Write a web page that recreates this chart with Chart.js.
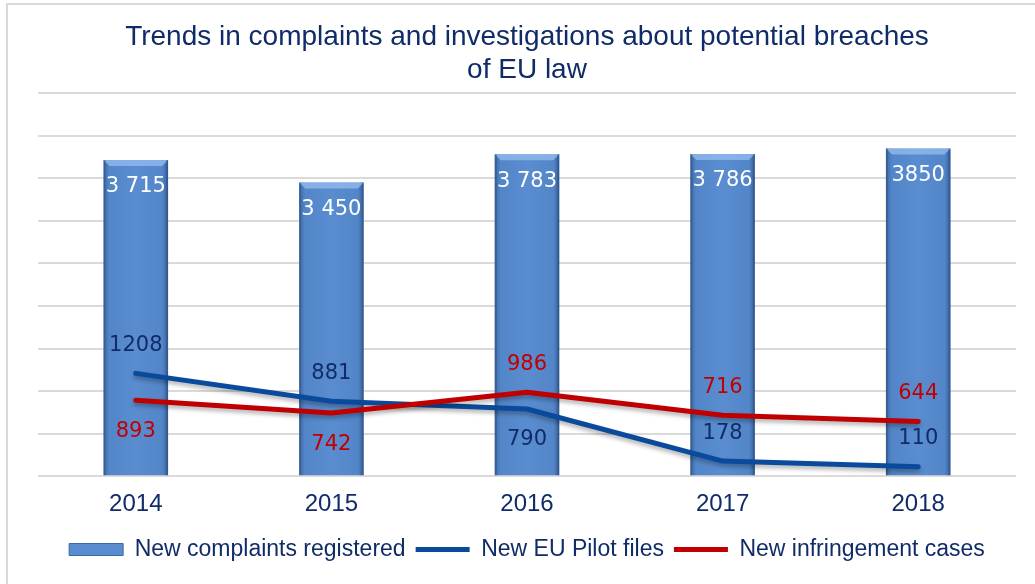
<!DOCTYPE html>
<html>
<head>
<meta charset="utf-8">
<script src="https://cdn.jsdelivr.net/npm/chart.js@4.4.0/dist/chart.umd.min.js"></script>
<style>
  html, body { margin:0; padding:0; background:#fff; }
  #wrap { position:relative; width:1035px; height:584px; overflow:hidden; }
  #frame { position:absolute; left:6px; top:3px; width:1100px; height:700px; border:2px solid #d9d9d9; pointer-events:none; }
  canvas { position:absolute; left:0; top:0; }
</style>
</head>
<body>
<div id="wrap">
  <canvas id="chart" width="1035" height="584"></canvas>
  <div id="frame"></div>
</div>
<script>
// data
const years = ['2014', '2015', '2016', '2017', '2018'];
const complaints = [3715, 3450, 3783, 3786, 3850];
const complaintText = ['3 715', '3 450', '3 783', '3 786', '3850'];
const pilotFiles = [1208, 881, 790, 178, 110];
const infringements = [893, 742, 986, 716, 644];

// where each line label sits relative to its point
const pilotPos = ['above', 'above', 'below', 'above', 'above'];
const infrPos = ['below', 'below', 'above', 'above', 'above'];

const navy = '#102c68';
const blueLine = '#0a4a9c';
const redLine = '#c00000';
const barPct = 0.33;

function barFill(c) {
  const chart = c.chart;
  const x = chart.scales.x;
  if (!chart.chartArea || !x || c.dataIndex === undefined) return '#5588c8';
  const cx = x.getPixelForValue(c.dataIndex);
  const w = chart.chartArea.width / years.length * barPct;
  const g = chart.ctx.createLinearGradient(cx - w/2, 0, cx + w/2, 0);
  g.addColorStop(0, '#3c68a4');
  g.addColorStop(0.09, '#5386c8');
  g.addColorStop(0.5, '#5a8dcf');
  g.addColorStop(0.91, '#5386c8');
  g.addColorStop(1, '#36609a');
  return g;
}

const bevel = {
  id: 'bevel',
  afterDatasetDraw(chart, args) {
    if (args.index !== 0) return;
    const ctx = chart.ctx;
    ctx.save();
    args.meta.data.forEach(el => {
      const l = el.x - el.width/2, r = el.x + el.width/2, t = el.y;
      ctx.fillStyle = 'rgba(150,190,240,0.75)';
      ctx.beginPath();
      ctx.moveTo(l, t); ctx.lineTo(r, t); ctx.lineTo(r - 6, t + 6); ctx.lineTo(l + 6, t + 6);
      ctx.closePath(); ctx.fill();
      ctx.fillStyle = 'rgba(40,70,120,0.35)';
      ctx.fillRect(l, t, 2, el.base - t);
      ctx.fillRect(r - 2, t, 2, el.base - t);
    });
    ctx.restore();
  }
};

const lineShadow = {
  id: 'lineShadow',
  beforeDatasetDraw(chart, args) {
    if (args.index === 0) return;
    const ctx = chart.ctx;
    ctx.save();
    ctx.shadowColor = 'rgba(0,0,0,0.3)';
    ctx.shadowBlur = 4;
    ctx.shadowOffsetY = 3;
  },
  afterDatasetDraw(chart, args) {
    if (args.index === 0) return;
    chart.ctx.restore();
  }
};

const valueLabels = {
  id: 'valueLabels',
  afterDatasetsDraw(chart) {
    const ctx = chart.ctx;
    ctx.save();
    ctx.font = '21px "DejaVu Sans"';
    ctx.textAlign = 'center';
    ctx.textBaseline = 'middle';
    chart.getDatasetMeta(0).data.forEach((el, i) => {
      ctx.fillStyle = '#ffffff';
      ctx.fillText(complaintText[i], el.x, el.y + 27);
    });
    [[1, pilotFiles, pilotPos, navy], [2, infringements, infrPos, redLine]].forEach(([di, vals, pos, col]) => {
      chart.getDatasetMeta(di).data.forEach((el, i) => {
        ctx.fillStyle = col;
        const dy = pos[i] === 'above' ? -28 : 31;
        ctx.fillText(String(vals[i]), el.x, el.y + dy);
      });
    });
    ctx.restore();
  }
};

new Chart(document.getElementById('chart'), {
  type: 'bar',
  data: {
    labels: years,
    datasets: [
      { label: 'New complaints registered', data: complaints, backgroundColor: barFill,
        barPercentage: barPct, categoryPercentage: 1, order: 3 },
      { label: 'New EU Pilot files', type: 'line', data: pilotFiles, borderColor: blueLine,
        backgroundColor: blueLine, borderWidth: 5, pointRadius: 0, tension: 0, order: 2,
        borderCapStyle: 'round', borderJoinStyle: 'round' },
      { label: 'New infringement cases', type: 'line', data: infringements, borderColor: redLine,
        backgroundColor: redLine, borderWidth: 5, pointRadius: 0, tension: 0, order: 1,
        borderCapStyle: 'round', borderJoinStyle: 'round' }
    ]
  },
  options: {
    responsive: false,
    animation: false,
    layout: { padding: { left: 38, right: 19, top: 10, bottom: 13 } },
    plugins: {
      title: {
        display: true,
        text: ['Trends in complaints and investigations about potential breaches', 'of EU law'],
        color: navy,
        font: { family: '"Liberation Sans", Arial', size: 28, weight: 'normal', lineHeight: 1.2 },
        padding: { top: 10, bottom: 6 }
      },
      legend: {
        position: 'bottom',
        labels: {
          color: navy,
          font: { family: '"Liberation Sans", Arial', size: 23 },
          usePointStyle: true,
          pointStyleWidth: 54,
          boxHeight: 12,
          padding: 10,
          sort: (a, b) => a.datasetIndex - b.datasetIndex,
          generateLabels(chart) {
            const items = Chart.defaults.plugins.legend.labels.generateLabels(chart);
            items.forEach(it => {
              const i = it.datasetIndex;
              if (i === 0) { it.pointStyle = 'rect'; it.fillStyle = '#5a8dcf'; it.strokeStyle = '#3c68a4'; it.lineWidth = 1; }
              else { it.pointStyle = 'line'; it.strokeStyle = i === 1 ? blueLine : redLine; it.lineWidth = 5; }
            });
            return items;
          }
        }
      },
      tooltip: { enabled: false }
    },
    scales: {
      x: {
        grid: { display: false, drawTicks: false },
        border: { display: false },
        ticks: { color: navy, font: { family: '"Liberation Sans", Arial', size: 24 }, padding: 14 },
        afterFit(s) { s.height -= 5; }
      },
      y: {
        min: 0, max: 4500,
        ticks: { stepSize: 500, display: false },
        grid: { color: '#dadada', lineWidth: 2, drawTicks: false },
        border: { display: false }
      }
    }
  },
  plugins: [bevel, lineShadow, valueLabels]
});
</script>
</body>
</html>
